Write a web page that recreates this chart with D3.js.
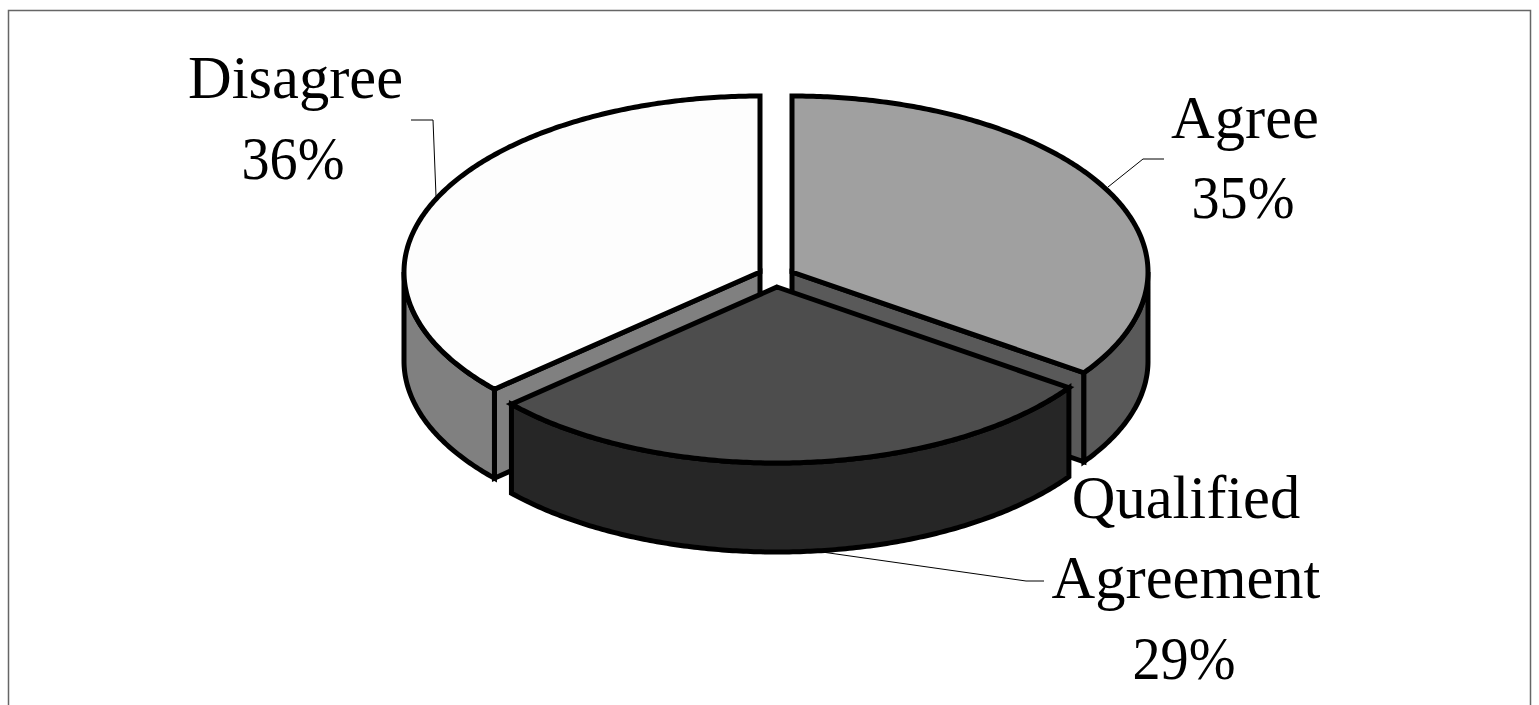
<!DOCTYPE html>
<html lang="en">
<head>
  <meta charset="UTF-8">
  <title>Agreement pie</title>
  <script src="https://d3js.org/d3.v7.min.js"></script>
  <style>
    html, body { margin: 0; padding: 0; background: #fff; overflow: hidden; }
    svg { display: block; }
    text { font-family: "Liberation Serif", serif; font-size: 60.5px; fill: #000; text-anchor: middle; }
  </style>
</head>
<body>
  <div id="chart"></div>

  <script>
  // clockwise from 12 o'clock
  const categories = ['Agree', 'Qualified Agreement', 'Disagree'];
  const shares = [34.7, 28.7, 36.6];
  const shareLabels = ['35%', '29%', '36%'];

  const topColors = ['#a0a0a0', '#4d4d4d', '#fdfdfd'];
  const wallColors = ['#595959', '#262626', '#808080'];

  // where each exploded slice has its apex
  const apexes = [[792, 272], [777, 287], [760, 272]];
  const rx = 356, ry = 176, depth = 89;

  const labelLines = [
    [{ t: 'Agree', x: 1245, y: 138 }, { t: shareLabels[0], x: 1243, y: 218, w: 103 }],
    [{ t: 'Qualified', x: 1186, y: 518 }, { t: 'Agreement', x: 1186, y: 598 }, { t: shareLabels[1], x: 1184, y: 679, w: 103 }],
    [{ t: 'Disagree', x: 295.5, y: 98 }, { t: shareLabels[2], x: 293, y: 179, w: 103 }]
  ];
  const leaders = [
    [[1164, 159], [1143, 159], [1108, 187]],
    [[1044, 581], [1026, 581], [815, 551]],
    [[411, 120], [433, 120], [436, 196]]
  ];

  const svg = d3.select('#chart').append('svg')
    .attr('width', 1539).attr('height', 705);

  svg.append('rect')
    .attr('x', 8.5).attr('y', 10.5)
    .attr('width', 1522).attr('height', 720)
    .attr('fill', '#fff').attr('stroke', '#666').attr('stroke-width', 1.5);

  const xScale = d3.scaleLinear().domain([-1, 1]).range([-rx, rx]);
  const yScale = d3.scaleLinear().domain([-1, 1]).range([ry, -ry]);

  const slices = d3.pie().sort(null).value(d => d)(shares);

  const line = d3.line();

  function rim(i, a0, a1, dz) {
    const [ax, ay] = apexes[i];
    const n = Math.max(2, Math.ceil((a1 - a0) / 0.01));
    return d3.range(n + 1).map(k => {
      const a = a0 + (a1 - a0) * k / n;
      return [ax + xScale(Math.sin(a)), ay + yScale(Math.cos(a)) + dz];
    });
  }

  function drawShape(pts, fill) {
    svg.append('path')
      .attr('d', line(pts) + 'Z')
      .attr('fill', fill)
      .attr('stroke', '#000')
      .attr('stroke-width', 5)
      .attr('stroke-linejoin', 'miter');
  }

  function drawSlice(i) {
    const s = slices[i];
    const [ax, ay] = apexes[i];
    const wall = wallColors[i];

    // side wall along the cut, only for the ones either side of the front slice
    if (i === 0) {
      const e = rim(i, s.endAngle, s.endAngle, 0)[0];
      drawShape([[ax, ay], e, [e[0], e[1] + depth], [ax, ay + depth]], wall);
    }
    if (i === 2) {
      const e = rim(i, s.startAngle, s.startAngle, 0)[0];
      drawShape([[ax, ay], e, [e[0], e[1] + depth], [ax, ay + depth]], wall);
    }

    // outer wall: lower half of the ellipse only
    const a0 = Math.max(s.startAngle, Math.PI / 2);
    const a1 = Math.min(s.endAngle, Math.PI * 1.5);
    if (a1 > a0) {
      drawShape(rim(i, a0, a1, 0).concat(rim(i, a0, a1, depth).reverse()), wall);
    }

    drawShape([[ax, ay]].concat(rim(i, s.startAngle, s.endAngle, 0)), topColors[i]);
  }

  // the front slice goes last so it sits over the other two
  [0, 2, 1].forEach(drawSlice);

  svg.selectAll('path.leader')
    .data(leaders)
    .enter().append('path')
    .attr('class', 'leader')
    .attr('d', d => line(d))
    .attr('fill', 'none')
    .attr('stroke', '#000')
    .attr('stroke-width', 1);

  svg.selectAll('text')
    .data(labelLines.flat())
    .enter().append('text')
    .attr('x', d => d.x)
    .attr('y', d => d.y)
    .attr('textLength', d => d.w || null)
    .attr('lengthAdjust', d => d.w ? 'spacingAndGlyphs' : null)
    .text(d => d.t);
  </script>
</body>
</html>
